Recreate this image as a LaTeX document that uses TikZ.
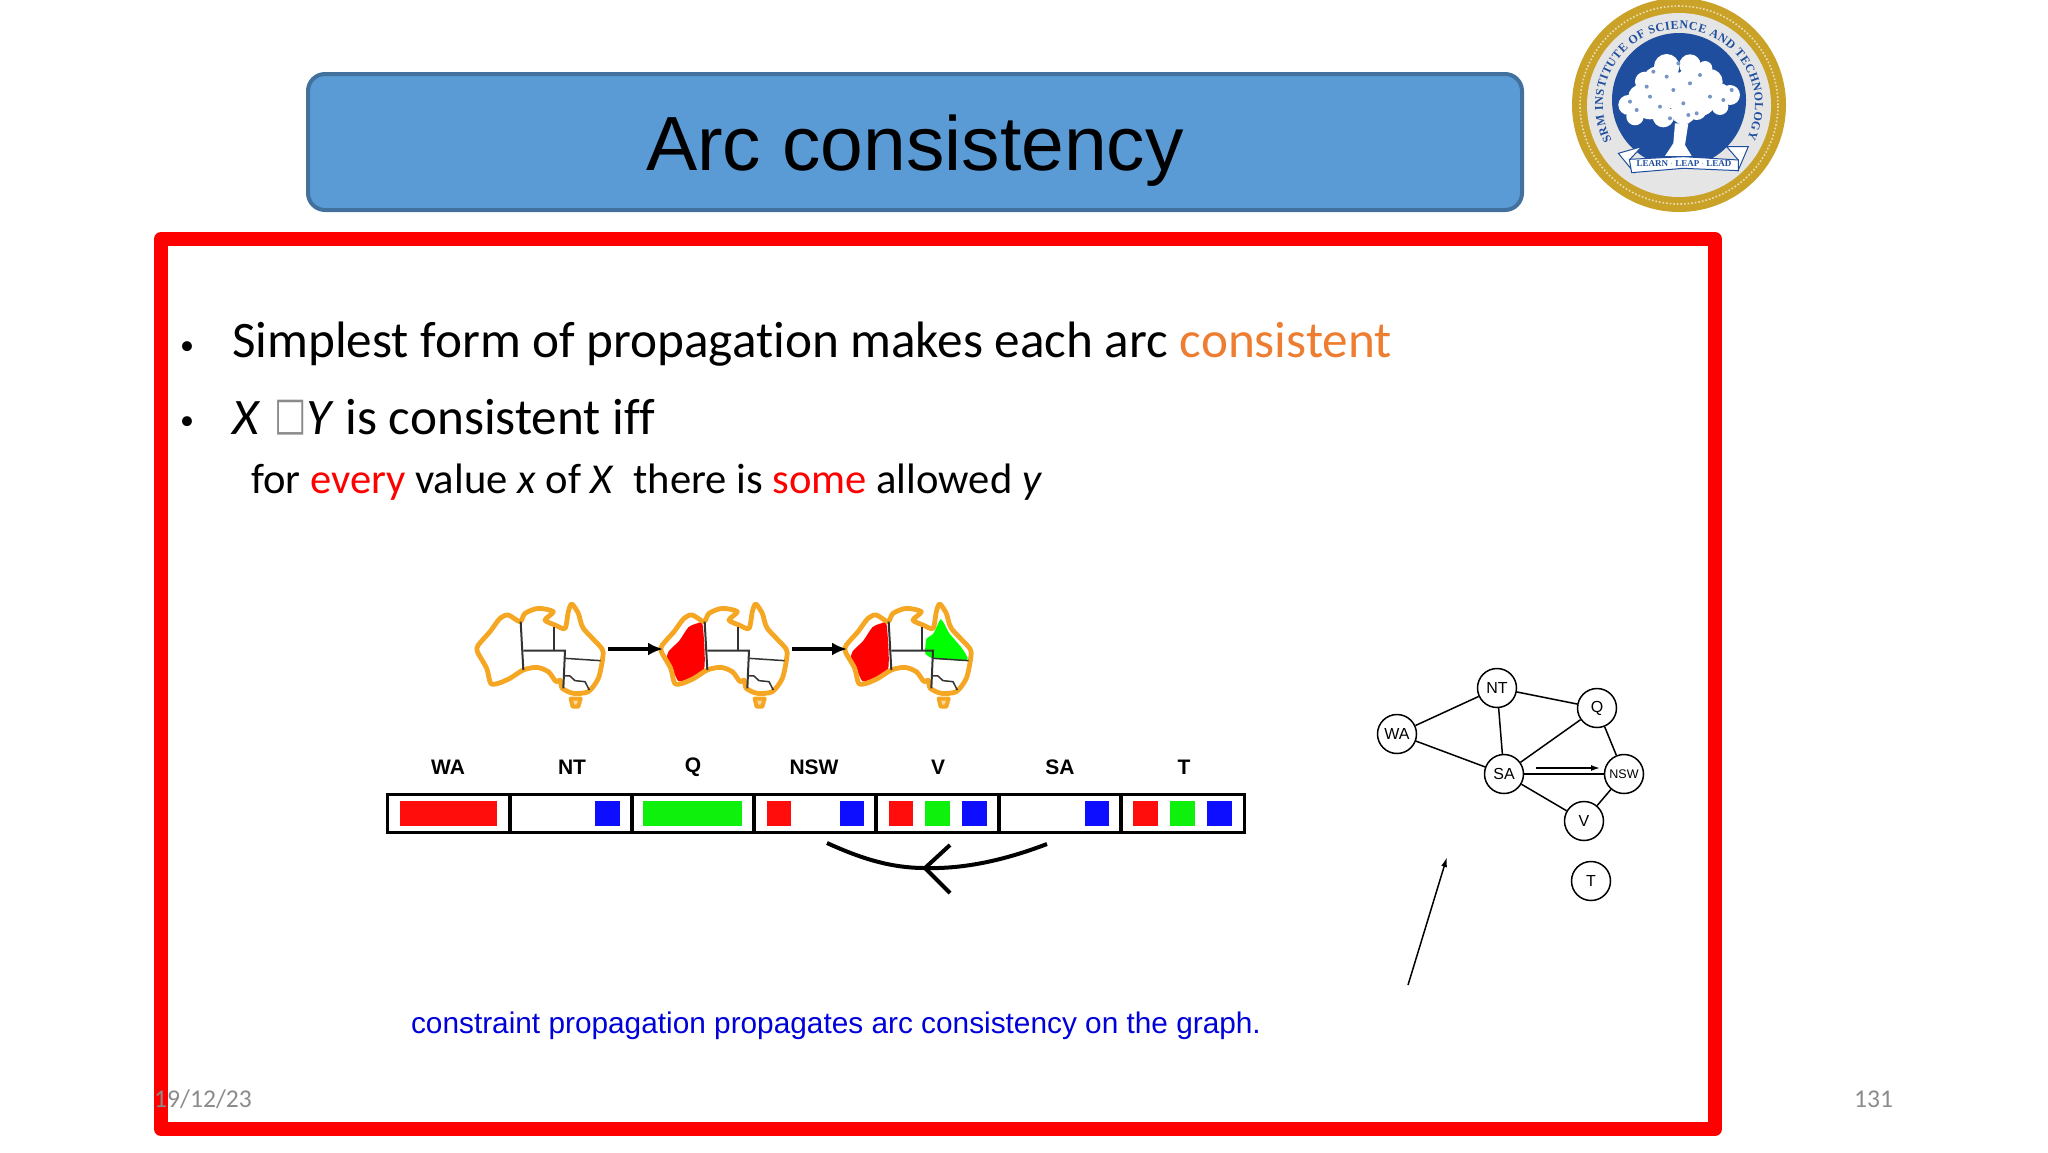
\documentclass[tikz,border=0pt]{standalone}
\usepackage{fontspec}
\setmainfont{Carlito}[Ligatures=CommonOff]
\newfontfamily\arialfont{Liberation Sans}
\newfontfamily\logofont{Liberation Serif}
\newfontfamily\dejavufont{DejaVu Sans}
\usetikzlibrary{arrows.meta, decorations.text}
\definecolor{titleblue}{HTML}{5B9BD5}
\definecolor{titleedge}{HTML}{41719C}
\definecolor{accentorange}{HTML}{ED7D31}
\definecolor{footgray}{HTML}{8B8B8B}
\definecolor{mapedge}{HTML}{F5A623}
\definecolor{loggold}{HTML}{C9A227}
\definecolor{logoblue}{HTML}{1F4E9E}
\definecolor{cellgreen}{HTML}{00F000}
\tikzset{
    bullet_text/.style={anchor=base west, inner sep=0pt, text=black},
    graph_node/.style={circle, draw, line width=1.5pt, minimum size=39pt, inner sep=0pt, font=\arialfont\fontsize{16}{16}\selectfont},
    graph_edge/.style={line width=1.5pt},
    domain_label/.style={inner sep=0pt, font=\arialfont\bfseries\fontsize{21}{21}\selectfont},
    map_arrow/.style={-{Latex[length=15pt, width=13pt]}, line width=3.5pt}
}
\newcommand{\ausmap}[2]{
\begin{scope}[shift={(#1,590)}, x=0.3333pt, y=-0.3333pt]
#2
\draw[mapedge, line width=4.8pt, line join=round] plot[smooth cycle, tension=0.45] coordinates {(150,95) (115,75) (90,85) (60,125) (25,165) (22,185) (50,235) (62,280) (85,280) (120,265) (160,240) (200,232) (235,245) (258,275) (270,270) (277,295) (310,310) (355,305) (385,265) (398,205) (395,175) (340,115) (325,70) (305,42) (295,65) (285,115) (255,105) (225,90) (250,65) (205,55) (165,70)};
\draw[black!80, line width=2pt] (152,95) -- (160,240);
\draw[black!80, line width=2pt] (160,182) -- (285,182) -- (280,295);
\draw[black!80, line width=2pt] (253,112) -- (253,182);
\draw[black!80, line width=1.5pt] (285,205) -- (392,212);
\draw[black!80, line width=1.5pt] (282,257) -- (300,258) -- (315,272) -- (345,275) -- (358,300);
\draw[mapedge, line width=4pt, fill=mapedge!45, line join=round] (302,326) -- (332,326) -- (325,350) -- (308,350) -- cycle;
\end{scope}
}
\begin{document}
\begin{tikzpicture}[x=1pt, y=-1pt]
\useasboundingbox (0,0) rectangle (2048,1152);

\node (title_box) [draw=titleedge, fill=titleblue, line width=4pt, rounded corners=17pt, minimum width=1214pt, minimum height=136pt, inner sep=0pt, text height=60pt, text depth=4pt, font=\arialfont\fontsize{76.8}{77}\selectfont] at (915,142) {Arc consistency};

\draw[red, line width=14pt, line join=round] (161,239) rectangle (1715,1129);

\fill[loggold] (1679,105) circle (107pt);
\draw[loggold!35, line width=1.6pt, dotted] (1679,105) circle (99pt);
\fill[black!10] (1679,105) circle (92pt);
\fill[logoblue] (1679,100) circle (67pt);
\path[decorate, decoration={text along path, text align={fit to path}, text={|\logofont\bfseries\fontsize{12}{12}\selectfont\color{logoblue}|SRM INSTITUTE OF SCIENCE AND TECHNOLOGY}}] (1611.9,140.7) arc[start angle=208, end angle=-26, radius=76pt];
\begin{scope}[shift={(1550,0)}, x=0.3333pt, y=-0.3333pt]
\fill[white] (375,370) -- (415,370) -- (405,435) -- (425,468) -- (345,468) -- (370,430) -- cycle;
\foreach \blobx/\bloby/\blobr in {235/315/30, 285/245/30, 350/200/38, 420/195/32, 480/245/38, 540/285/30, 300/310/48, 370/270/55, 450/300/48, 400/335/38, 340/350/32, 510/320/25, 255/350/26, 270/290/35, 510/280/30, 420/250/45, 320/240/40, 465/205/22, 440/330/30}
    \fill[white] (\blobx,\bloby) circle[radius=\blobr];
\foreach \dotx/\doty in {290/260, 350/230, 420/250, 480/290, 330/320, 400/310, 260/330, 520/300, 440/340, 370/270, 310/215, 385/190, 450/225, 545/270, 300/290, 360/355, 415/345, 240/305}
    \fill[logoblue!60] (\dotx,\doty) circle[radius=6];
\draw[logoblue, fill=white, line width=1pt] (205,460) -- (275,440) -- (240,478) -- (250,515) -- cycle;
\draw[logoblue, fill=white, line width=1pt] (595,440) -- (530,440) -- (565,480) -- (565,510) -- cycle;
\draw[logoblue, fill=white, line width=1pt] (238,478) -- (400,470) -- (565,480) -- (565,512) -- (400,505) -- (245,518) -- cycle;
\node (logo_motto) [inner sep=0pt, text=logoblue, font=\logofont\bfseries\fontsize{9}{9}\selectfont] at (402,492) {LEARN $\cdot$ LEAP $\cdot$ LEAD};
\end{scope}

\node (bullet_a) [bullet_text, font=\fontsize{28}{28}\selectfont] at (180,354) {\textbullet};
\node (bullet_b) [bullet_text, font=\fontsize{28}{28}\selectfont] at (180,429) {\textbullet};
\node (line_a) [bullet_text, font=\fontsize{51.2}{52}\selectfont] at (232,357) {Simplest form of propagation makes each arc \textcolor{accentorange}{consistent}};
\node (line_b) [bullet_text, font=\fontsize{51.2}{52}\selectfont] at (232,434) {\textit{X} \kern2pt\raisebox{5pt}{\scalebox{0.9}[1.2]{\textcolor{footgray}{\dejavufont\fontsize{38}{38}\selectfont □}}}\textit{Y} is consistent iff};
\node (line_c) [bullet_text, font=\fontsize{42.6}{43}\selectfont] at (251,493) {for \textcolor{red}{every} value \textit{x} of \textit{X}\ \ there is \textcolor{red}{some} allowed \textit{y}};

\ausmap{470}{}
\ausmap{654}{\fill[red] plot[smooth cycle, tension=0.4] coordinates {(130,100) (103,112) (76,152) (44,184) (39,211) (60,248) (72,272) (90,272) (150,238) (146,105)};}
\ausmap{838}{\fill[red] plot[smooth cycle, tension=0.4] coordinates {(130,100) (103,112) (76,152) (44,184) (39,211) (60,248) (72,272) (90,272) (150,238) (146,105)};
\fill[green] plot[smooth cycle, tension=0.3] coordinates {(307,88) (286,131) (265,147) (262,190) (288,206) (388,210) (372,175) (334,130) (318,100)};}
\coordinate (map_a_east) at (608,649);
\coordinate (map_b_west) at (663,649);
\coordinate (map_b_east) at (792,649);
\coordinate (map_c_west) at (847,649);
\draw[map_arrow] (map_a_east) -- (map_b_west);
\draw[map_arrow] (map_b_east) -- (map_c_west);

\foreach \cellname/\cellx/\celltext in {wa/448/WA, nt/572/NT, q/693/Q, nsw/814/NSW, v/938/V, sa/1060/SA, t/1184/T}
    \node (label_\cellname) [domain_label] at (\cellx,767) {\celltext};
\foreach \swatchl/\swatchr/\swatchc in {400/497/red, 595/620/blue, 643/742/cellgreen, 767/791/red, 840/864/blue, 889/913/red, 925/950/cellgreen, 962/987/blue, 1085/1109/blue, 1133/1158/red, 1170/1195/cellgreen, 1207/1232/blue}
    \fill[\swatchc!95!white] (\swatchl,801) rectangle (\swatchr,826);
\draw[line width=3pt] (387,794) rectangle (1244,832);
\foreach \cellx in {510, 632, 754, 876, 999, 1121}
    \draw[line width=3.5pt] (\cellx,794) -- (\cellx,832);

\coordinate (curve_left) at (827,843);
\coordinate (curve_right) at (1047,844);
\coordinate (curve_tip) at (925,868);
\draw[line width=4pt] (curve_right) .. controls (1000,862) and (960,869) .. (curve_tip) .. controls (890,868) and (860,858) .. (curve_left);
\draw[line width=4pt, line join=miter] (950,845) -- (curve_tip) -- (950,893);

\node (wa_node) [graph_node] at (1397,734) {WA};
\node (nt_node) [graph_node] at (1497,688) {NT};
\node (q_node) [graph_node] at (1597,708) {Q};
\node (sa_node) [graph_node] at (1504,774) {SA};
\node (nsw_node) [graph_node, font=\arialfont\fontsize{12.5}{12.5}\selectfont] at (1624,774) {NSW};
\node (v_node) [graph_node] at (1584,821) {V};
\node (t_node) [graph_node] at (1591,881) {T};
\draw[graph_edge] (wa_node) -- (nt_node);
\draw[graph_edge] (wa_node) -- (sa_node);
\draw[graph_edge] (nt_node) -- (sa_node);
\draw[graph_edge] (nt_node) -- (q_node);
\draw[graph_edge] (q_node) -- (sa_node);
\draw[graph_edge] (q_node) -- (nsw_node);
\draw[graph_edge] (sa_node) -- (nsw_node);
\draw[graph_edge] (sa_node) -- (v_node);
\draw[graph_edge] (nsw_node) -- (v_node);
\coordinate (sa_arrow_start) at (1536,768);
\coordinate (sa_arrow_end) at (1600,768);
\draw[-{Latex[length=9pt, width=6pt]}, line width=1.5pt] (sa_arrow_start) -- (sa_arrow_end);
\coordinate (lone_arrow_start) at (1408,985);
\coordinate (lone_arrow_end) at (1447,857);
\draw[-{Latex[length=10pt, width=6pt]}, line width=1.5pt] (lone_arrow_start) -- (lone_arrow_end);

\node (caption_text) [inner sep=0pt, text=blue!85!black, font=\arialfont\fontsize{29.8}{30}\selectfont] at (836,1026) {constraint propagation propagates arc consistency on the graph.};
\node (date_text) [bullet_text, text=footgray, font=\fontsize{25.6}{26}\selectfont] at (154,1107) {19/12/23};
\node (page_text) [bullet_text, text=footgray, font=\fontsize{25.6}{26}\selectfont] at (1854,1107) {131};
\end{tikzpicture}
\end{document}
